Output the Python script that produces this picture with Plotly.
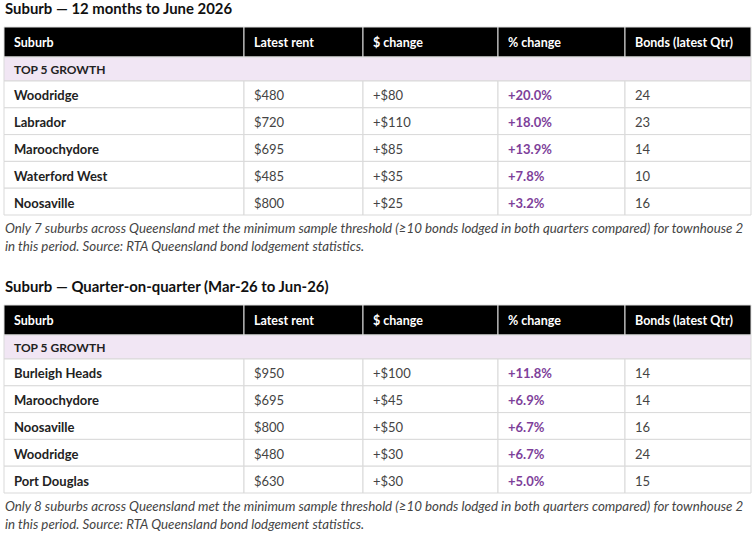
import plotly.graph_objects as go

columns = ["Suburb", "Latest rent", "$ change", "% change", "Bonds (latest Qtr)"]
group_label = "TOP 5 GROWTH"

t1_title = "Suburb — 12 months to June 2026"
t1_suburbs = ["Woodridge", "Labrador", "Maroochydore", "Waterford West", "Noosaville"]
t1_rent = ["$480", "$720", "$695", "$485", "$800"]
t1_dchg = ["+$80", "+$110", "+$85", "+$35", "+$25"]
t1_pchg = ["+20.0%", "+18.0%", "+13.9%", "+7.8%", "+3.2%"]
t1_bonds = ["24", "23", "14", "10", "16"]
t1_note = ["Only 7 suburbs across Queensland met the minimum sample threshold (≥10 bonds lodged in both quarters compared) for townhouse 2",
           "in this period. Source: RTA Queensland bond lodgement statistics."]

t2_title = "Suburb — Quarter-on-quarter (Mar-26 to Jun-26)"
t2_suburbs = ["Burleigh Heads", "Maroochydore", "Noosaville", "Woodridge", "Port Douglas"]
t2_rent = ["$950", "$695", "$800", "$480", "$630"]
t2_dchg = ["+$100", "+$45", "+$50", "+$30", "+$30"]
t2_pchg = ["+11.8%", "+6.9%", "+6.7%", "+6.7%", "+5.0%"]
t2_bonds = ["14", "14", "16", "24", "15"]
t2_note = ["Only 8 suburbs across Queensland met the minimum sample threshold (≥10 bonds lodged in both quarters compared) for townhouse 2",
           "in this period. Source: RTA Queensland bond lodgement statistics."]

W, H = 755, 538
FONT = "Lato"
PURPLE = "#7E3F9A"
TEXT = "#333333"
LAV = "#F1E6F4"
GRID = "#D9D9D9"
col_edges = [4, 244, 363, 498, 625, 751]
HDR_H, GRP_H, ROW_H = 30, 24, 26.8

fig = go.Figure()
shapes, anns = [], []

def rect(x0, x1, y0, y1, fill, line):
    shapes.append(dict(type="rect", xref="x", yref="y", x0=x0, x1=x1, y0=y0, y1=y1,
                       fillcolor=fill, line=dict(color=line, width=1), layer="below"))

def text(s, x, y, size, color, bold=False, italic=False, anchor="middle"):
    if bold:
        s = "<b>%s</b>" % s
    if italic:
        s = "<i>%s</i>" % s
    anns.append(dict(text=s, x=x, y=y, xref="x", yref="y", xanchor="left", yanchor=anchor,
                     showarrow=False, font=dict(family=FONT, size=size, color=color)))

def add_table(title, top, sub, rent, dchg, pchg, bonds, note):
    text(title, 3, top - 19, 14.9, "#111111", bold=True)
    for i, c in enumerate(columns):
        rect(col_edges[i], col_edges[i + 1], top, top + HDR_H, "black", "#E0E0E0")
        text(c, col_edges[i] + 8, top + HDR_H / 2, 12.5, "white", bold=True)
    y = top + HDR_H
    rect(col_edges[0], col_edges[-1], y, y + GRP_H, LAV, GRID)
    text(group_label, col_edges[0] + 8, y + GRP_H / 2, 12, "#222222", bold=True)
    y += GRP_H
    for r in range(len(sub)):
        vals = [sub[r], rent[r], dchg[r], pchg[r], bonds[r]]
        for i, v in enumerate(vals):
            rect(col_edges[i], col_edges[i + 1], y, y + ROW_H, "white", GRID)
            text(v, col_edges[i] + 8, y + ROW_H / 2 + 1, 13,
                 PURPLE if i == 3 else ("#222222" if i == 0 else "#444444"),
                 bold=(i in (0, 3)))
        y += ROW_H
    for k, line in enumerate(note):
        text(line, 3, y + 13 + k * 18, 13.3, "#444444", italic=True)

add_table(t1_title, 27, t1_suburbs, t1_rent, t1_dchg, t1_pchg, t1_bonds, t1_note)
add_table(t2_title, 305, t2_suburbs, t2_rent, t2_dchg, t2_pchg, t2_bonds, t2_note)

fig.add_trace(go.Scatter(x=[0, W], y=[0, H], mode="markers", marker=dict(opacity=0),
                         hoverinfo="skip", showlegend=False))
fig.update_layout(width=W, height=H, margin=dict(l=0, r=0, t=0, b=0),
                  paper_bgcolor="white", plot_bgcolor="white",
                  shapes=shapes, annotations=anns,
                  xaxis=dict(range=[0, W], visible=False, fixedrange=True),
                  yaxis=dict(range=[H, 0], visible=False, fixedrange=True))
fig.write_html("out.html", config={"displayModeBar": False},
               post_script="document.body.style.margin='0';")
